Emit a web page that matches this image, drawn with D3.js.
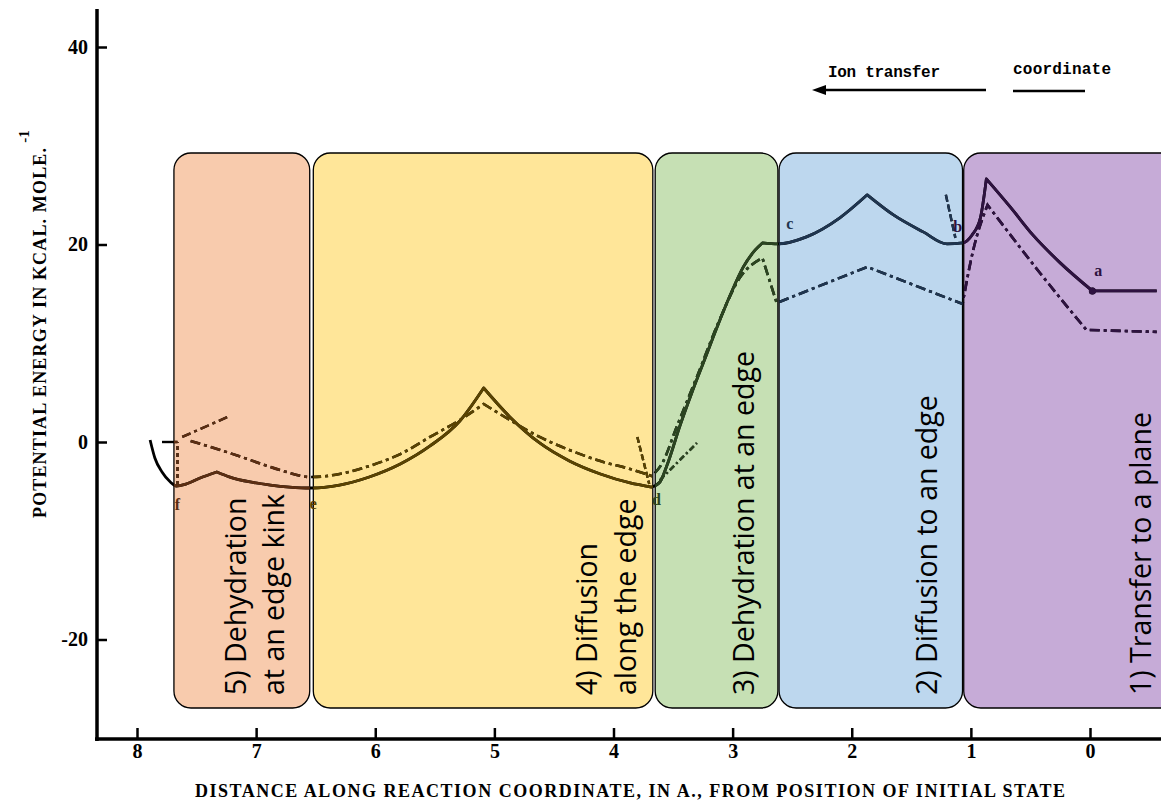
<!DOCTYPE html>
<html>
<head>
<meta charset="utf-8">
<script src="https://cdn.jsdelivr.net/npm/d3@7"></script>
<style>
	body { margin: 0; background: #fff; }
	svg { display: block; }
</style>
</head>
<body>
<svg id="chart" width="1161" height="801"></svg>
<script>
// tick labels
const yTickValues = [ -20, 0, 20, 40 ];
const xTickValues = [ 8, 7, 6, 5, 4, 3, 2, 1, 0 ];

// reaction stages, x in A. along the reaction coordinate
const stageNames = [
	[ '5) Dehydration', 'at an edge kink' ],
	[ '4) Diffusion', 'along the edge' ],
	[ '3) Dehydration at an edge' ],
	[ '2) Diffusion to an edge' ],
	[ '1) Transfer to a plane' ]
];
const stageStart = [ 7.69, 6.52, 3.65, 2.61, 1.06 ];
const stageEnd = [ 6.55, 3.67, 2.62, 1.07, -0.76 ];

// solid curve (kcal/mole), split at the cusps
const solidKink = [ [7.89, 0.2], [7.85, -1.62], [7.79, -3.04], [7.72, -4.05], [7.67, -4.46], [7.59, -4.26], [7.47, -3.65], [7.33, -3.04] ];
const solidEdgeLeft = [ [7.33, -3.04], [7.22, -3.55], [7.05, -4.05], [6.88, -4.36], [6.72, -4.56], [6.54, -4.66], [6.30, -4.36], [6.05, -3.54], [5.79, -2.23], [5.54, -0.40], [5.29, 2.13], [5.09, 5.47] ];
const solidEdgeRight = [ [5.09, 5.47], [4.87, 2.54], [4.62, -0.10], [4.37, -1.92], [4.11, -3.24], [3.86, -4.15], [3.68, -4.56] ];
const solidDehydration = [ [3.68, -4.56], [3.61, -4.05], [3.55, -2.33], [3.44, 1.72], [3.34, 5.07], [3.23, 8.51], [3.13, 11.65], [3.02, 14.89], [2.91, 17.73], [2.81, 19.45], [2.75, 20.16] ];
const solidToEdge = [ [2.75, 20.16], [2.62, 20.06], [2.38, 20.77], [2.10, 22.70], [1.87, 25.03] ];
const solidToEdgeDown = [ [1.87, 25.03], [1.65, 23.0], [1.40, 21.28], [1.20, 20.06], [1.07, 20.16], [0.99, 20.97], [0.92, 22.70], [0.87, 26.65] ];
const solidPlane = [ [0.87, 26.65], [0.67, 23.81], [0.48, 20.97], [0.25, 18.14], [-0.02, 15.30] ];
const solidInitial = [ [-0.02, 15.30], [-0.56, 15.30] ];

// dash-dot curve
const dashEdgeLeft = [ [7.55, 0.1], [7.30, -0.81], [7.05, -1.82], [6.80, -2.84], [6.54, -3.55], [6.30, -3.24], [6.05, -2.43], [5.79, -1.22], [5.54, 0.51], [5.29, 2.23], [5.09, 3.85] ];
const dashEdgeRight = [ [5.09, 3.85], [4.87, 2.23], [4.62, 0.51], [4.37, -0.81], [4.11, -1.93], [3.86, -2.74], [3.68, -3.44] ];
const dashDehydration = [ [3.68, -3.44], [3.59, -2.13], [3.47, 1.52], [3.30, 6.59], [3.11, 12.36], [2.94, 16.62], [2.75, 18.64] ];
const dashDrop = [ [2.75, 18.64], [2.63, 14.08] ];
const dashToEdgeUp = [ [2.63, 14.08], [1.87, 17.73] ];
const dashToEdgeDown = [ [1.87, 17.73], [1.07, 13.98] ];
const dashPlaneUp = [ [1.07, 13.98], [0.98, 19.45], [0.86, 24.01] ];
const dashPlane = [ [0.86, 24.01], [0.42, 17.12], [0.03, 11.35] ];
const dashInitial = [ [0.03, 11.35], [-0.56, 11.15] ];

// short side branches
const branchKinkRise = [ [7.62, 0.51], [7.24, 2.53] ];
const branchKinkArrow = [ [7.66, -4.36], [7.66, 0] ];
const zeroMark = [ [7.79, 0], [7.66, 0] ];
const branchD = [ [3.80, 0.51], [3.70, -4.26] ];
const branchDehydration = [ [3.61, -3.85], [3.30, -0.10] ];
const branchB = [ [1.21, 25.03], [1.13, 20.67] ];

// lettered states
const pointNames = [ 'a', 'b', 'c', 'd', 'e', 'f' ];
const pointX = [ -0.07, 1.11, 2.52, 3.64, 6.52, 7.66 ];
const pointY = [ 16.8, 21.3, 21.6, -6.4, -6.8, -6.9 ];
const initialState = [ -0.02, 15.30 ];

const EnergyProfileChart = {
	width: 1161,
	height: 801,
	axisX: 97,
	axisY: 739,
	boxTop: 153,
	boxBottom: 708,
	stageFill: [ '#f8cbad', '#ffe699', '#c6e0b4', '#bdd7ee', '#c6abd7' ],
	stageInk: [ '#5c2e12', '#5a4300', '#2b4520', '#1f3550', '#2e1240' ],
	labelBaselines: [ [ 246, 284 ], [ 597, 636 ], [ 754 ], [ 937 ], [ 1151 ] ],
	serif: '"Liberation Serif", "DejaVu Serif", serif',

	render: function() {
		const self = EnergyProfileChart;
		let svg = d3.select('#chart');

		self.xScale = d3.scaleLinear()
			.domain([ 8, 0 ])
			.range([ 137, 1090 ]);
		self.yScale = d3.scaleLinear()
			.domain([ -20, 40 ])
			.range([ 639.5, 47 ]);

		self.drawStages(svg);
		self.drawCurves(svg.append('g'), '#000');

		// re-ink the curves inside each box with its tint
		for (let i = 0; i < stageNames.length; i++) {
			let clipId = 'stage-clip-' + i;
			svg.append('clipPath')
				.attr('id', clipId)
				.append('rect')
				.attr('x', self.xScale(stageStart[i]))
				.attr('y', self.boxTop)
				.attr('width', self.xScale(stageEnd[i]) - self.xScale(stageStart[i]))
				.attr('height', self.boxBottom - self.boxTop);
			self.drawCurves(svg.append('g').attr('clip-path', 'url(#' + clipId + ')'), self.stageInk[i]);
		}

		self.drawStageLabels(svg);
		self.drawPointLabels(svg);
		self.drawAxes(svg);
		self.drawAnnotations(svg);
	},
	drawStages: function(svg) {
		const self = EnergyProfileChart;

		svg.append('g')
			.selectAll('rect')
			.data(stageNames)
			.join('rect')
			.attr('x', (d, i) => self.xScale(stageStart[i]))
			.attr('y', self.boxTop)
			.attr('width', (d, i) => self.xScale(stageEnd[i]) - self.xScale(stageStart[i]))
			.attr('height', self.boxBottom - self.boxTop)
			.attr('rx', 17)
			.style('fill', (d, i) => self.stageFill[i])
			.style('stroke', '#000')
			.style('stroke-width', 1.3);
	},
	drawCurves: function(g, color) {
		const self = EnergyProfileChart;
		let smooth = d3.line()
			.x(d => self.xScale(d[0]))
			.y(d => self.yScale(d[1]))
			.curve(d3.curveMonotoneX);
		let straight = d3.line()
			.x(d => self.xScale(d[0]))
			.y(d => self.yScale(d[1]));
		// join pieces into one path so the dashes run on
		let joined = function(pieces) {
			return pieces.map((p, i) => i ? smooth(p).replace(/^M/, 'L') : smooth(p)).join('');
		};
		let solid = [ solidKink, solidEdgeLeft, solidEdgeRight, solidDehydration, solidToEdge, solidToEdgeDown, solidPlane, solidInitial ];
		let dashed = [ dashEdgeLeft, dashEdgeRight, dashDehydration, dashDrop, dashToEdgeUp, dashToEdgeDown, dashPlaneUp, dashPlane, dashInitial ];

		g.append('path')
			.attr('d', joined(solid))
			.style('fill', 'none')
			.style('stroke', color)
			.style('stroke-width', 2.8)
			.style('stroke-linejoin', 'round');
		g.append('path')
			.attr('d', joined(dashed))
			.style('fill', 'none')
			.style('stroke', color)
			.style('stroke-width', 2.6)
			.style('stroke-dasharray', '10,4,3,4');

		let branches = [
			{ points: branchKinkRise, dash: '9,4,3,4' },
			{ points: branchKinkArrow, dash: '4,3' },
			{ points: zeroMark, dash: null },
			{ points: branchD, dash: '6,3' },
			{ points: branchDehydration, dash: '6,3,2,3' },
			{ points: branchB, dash: '7,3' }
		];
		for (let i = 0; i < branches.length; i++) {
			g.append('path')
				.attr('d', straight(branches[i].points))
				.style('fill', 'none')
				.style('stroke', color)
				.style('stroke-width', 2.4)
				.style('stroke-dasharray', branches[i].dash);
		}

		g.append('circle')
			.attr('cx', self.xScale(initialState[0]))
			.attr('cy', self.yScale(initialState[1]))
			.attr('r', 3.5)
			.style('fill', color);
	},
	drawStageLabels: function(svg) {
		const self = EnergyProfileChart;

		for (let i = 0; i < stageNames.length; i++) {
			for (let j = 0; j < stageNames[i].length; j++) {
				let x = self.labelBaselines[i][j];
				svg.append('text')
					.attr('transform', 'translate(' + x + ',695) rotate(-90)')
					.style('font-family', '"Open Sans", sans-serif')
					.style('font-size', '28.5px')
					.style('fill', '#000')
					.text(stageNames[i][j]);
			}
		}
	},
	drawPointLabels: function(svg) {
		const self = EnergyProfileChart;

		svg.append('g')
			.selectAll('text')
			.data(pointNames)
			.join('text')
			.attr('x', (d, i) => self.xScale(pointX[i]))
			.attr('y', (d, i) => self.yScale(pointY[i]))
			.attr('text-anchor', 'middle')
			.style('font-family', self.serif)
			.style('font-weight', 'bold')
			.style('font-size', '16px')
			.style('fill', (d, i) => self.stageInk[[ 4, 4, 3, 2, 1, 0 ][i]])
			.text(d => d);
	},
	drawAxes: function(svg) {
		const self = EnergyProfileChart;
		let yAxis = d3.axisLeft(self.yScale)
			.tickValues(yTickValues)
			.tickFormat(d => String(d))
			.tickSize(-10)
			.tickPadding(9);
		let xAxis = d3.axisBottom(self.xScale)
			.tickValues(xTickValues)
			.tickFormat(d => String(d))
			.tickSize(-11)
			.tickPadding(5);

		let yG = svg.append('g')
			.attr('transform', 'translate(' + self.axisX + ',0)')
			.call(yAxis);
		let xG = svg.append('g')
			.attr('transform', 'translate(0,' + self.axisY + ')')
			.call(xAxis);

		[ yG, xG ].forEach(g => {
			g.select('.domain').remove();
			g.selectAll('.tick line').style('stroke', '#000').style('stroke-width', 2.5);
			g.selectAll('.tick text')
				.style('font-family', self.serif)
				.style('font-weight', 'bold')
				.style('font-size', '20px')
				.style('fill', '#000');
		});

		svg.append('line')
			.attr('x1', self.axisX).attr('y1', 9)
			.attr('x2', self.axisX).attr('y2', self.axisY + 2)
			.style('stroke', '#000')
			.style('stroke-width', 3.5);
		svg.append('line')
			.attr('x1', self.axisX - 2).attr('y1', self.axisY)
			.attr('x2', self.width).attr('y2', self.axisY)
			.style('stroke', '#000')
			.style('stroke-width', 3.5);

		// axis titles
		let yTitle = svg.append('text')
			.attr('transform', 'translate(46,518) rotate(-90)')
			.style('font-family', self.serif)
			.style('font-weight', 'bold')
			.style('font-size', '18px')
			.style('fill', '#000');
		yTitle.append('tspan')
			.attr('textLength', 370)
			.attr('lengthAdjust', 'spacing')
			.text('POTENTIAL ENERGY IN KCAL. MOLE.');
		yTitle.append('tspan')
			.attr('dx', 4)
			.attr('dy', -17)
			.style('font-size', '15px')
			.text('-1');

		svg.append('text')
			.attr('x', 195)
			.attr('y', 797)
			.attr('textLength', 870)
			.attr('lengthAdjust', 'spacing')
			.style('font-family', self.serif)
			.style('font-weight', 'bold')
			.style('font-size', '18px')
			.style('fill', '#000')
			.text('DISTANCE ALONG REACTION COORDINATE, IN A., FROM POSITION OF INITIAL STATE');
	},
	drawAnnotations: function(svg) {
		let mono = '"Liberation Mono", "DejaVu Sans Mono", monospace';

		svg.append('text')
			.attr('x', 828)
			.attr('y', 77)
			.attr('textLength', 112)
			.style('font-family', mono)
			.style('font-weight', 'bold')
			.style('font-size', '16px')
			.text('Ion transfer');
		svg.append('text')
			.attr('x', 1013)
			.attr('y', 74)
			.attr('textLength', 98)
			.style('font-family', mono)
			.style('font-weight', 'bold')
			.style('font-size', '16px')
			.text('coordinate');

		svg.append('line')
			.attr('x1', 822).attr('y1', 90)
			.attr('x2', 986).attr('y2', 90)
			.style('stroke', '#000')
			.style('stroke-width', 2.5);
		svg.append('path')
			.attr('d', 'M812,90 L826,85 L826,95 Z')
			.style('fill', '#000');
		svg.append('line')
			.attr('x1', 1013).attr('y1', 91)
			.attr('x2', 1085).attr('y2', 91)
			.style('stroke', '#000')
			.style('stroke-width', 2.5);
	}
};

EnergyProfileChart.render();
</script>
</body>
</html>
